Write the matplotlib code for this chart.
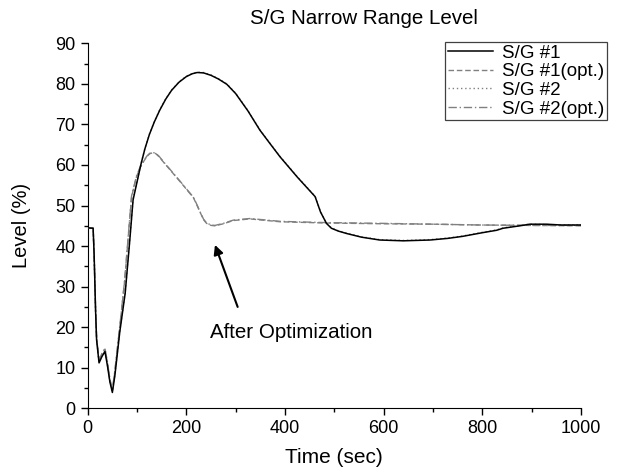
import matplotlib
matplotlib.use("Agg")
import matplotlib.pyplot as plt
from matplotlib.ticker import MultipleLocator

plt.rcParams['font.family'] = ['Liberation Sans', 'DejaVu Sans']

# S/G #1 level (solid)
t1 = [0, 11, 13, 16, 18, 23, 29, 35, 40, 45, 50, 55, 65, 76, 85, 92, 100, 108, 116, 125, 135, 146,
      158, 170, 185, 200, 212, 222, 235, 250, 265, 282, 300, 325, 349, 370, 390, 425, 461, 472, 484, 494, 508, 525,
      555, 592, 640, 694, 730, 760, 800, 829, 842, 876, 896, 930, 960, 1000]
y1 = [44.5, 44.4, 38, 24, 16.9, 11.2, 12.8, 14.0, 10.5, 6.5, 3.9, 8, 18.8, 28.4, 41, 51.4, 55.8, 60.2, 64.0, 67.5, 70.6, 73.5,
      76.2, 78.4, 80.4, 81.8, 82.5, 82.8, 82.7, 82.1, 81.2, 79.9, 77.6, 73.3, 68.6, 65.2, 62.0, 57.0, 52.2, 48.4, 45.6, 44.4, 43.7, 43.1,
      42.2, 41.5, 41.3, 41.5, 41.9, 42.4, 43.3, 43.9, 44.4, 45.0, 45.4, 45.4, 45.2, 45.2]

# S/G #1 level after optimization (dashed)
t1o = [0, 11, 13, 16, 18, 23, 29, 35, 40, 45, 50, 55, 65, 75, 82, 89, 99, 106, 113, 120, 126, 132, 138,
       145, 155, 167, 190, 205, 214, 220, 228, 235, 241, 250, 258, 275, 295, 329, 390, 480, 600, 700, 795, 900, 1000]
y1o = [44.5, 44.4, 38, 24, 17.3, 11.6, 13.4, 14.6, 11.2, 7, 4.4, 9, 20, 31.5, 42, 52.2, 57.1, 59.3, 60.8, 62.1, 62.8, 63.0, 62.8,
       62.0, 60.5, 58.8, 55.5, 53.3, 52.0, 50.5, 48.3, 46.5, 45.6, 45.1, 45.0, 45.5, 46.3, 46.7, 46.0, 45.7, 45.5, 45.4, 45.2, 45.1, 45.0]

# S/G #2 level (dotted)
t2 = [0, 11, 13, 16, 18, 23, 29, 35, 40, 45, 50, 55, 65, 76, 85, 92, 100, 108, 116, 125, 135, 146,
      158, 170, 185, 200, 212, 222, 235, 250, 265, 282, 300, 325, 349, 370, 390, 425, 461, 472, 484, 494, 508, 525,
      555, 592, 640, 694, 730, 760, 800, 829, 842, 876, 896, 930, 960, 1000]
y2 = [44.5, 44.4, 38, 24, 17.1, 11.4, 13.0, 14.2, 10.7, 6.7, 4.1, 8.2, 19.0, 28.6, 41.2, 51.6, 56.0, 60.3, 64.1, 67.6, 70.7, 73.6,
      76.3, 78.5, 80.5, 81.9, 82.6, 82.9, 82.8, 82.2, 81.3, 80.0, 77.7, 73.4, 68.7, 65.3, 62.1, 57.1, 52.3, 48.5, 45.7, 44.5, 43.8, 43.2,
      42.3, 41.6, 41.4, 41.6, 42.0, 42.5, 43.4, 44.0, 44.5, 45.1, 45.4, 45.3, 45.2, 45.3]

# S/G #2 level after optimization (dash-dot)
t2o = [0, 11, 13, 16, 18, 23, 29, 35, 40, 45, 50, 55, 65, 75, 82, 89, 99, 106, 113, 120, 126, 132, 138,
       145, 155, 167, 190, 205, 214, 220, 228, 235, 241, 250, 258, 275, 295, 329, 390, 480, 600, 700, 795, 900, 1000]
y2o = [44.5, 44.4, 38, 24, 17.5, 11.8, 13.6, 14.8, 11.4, 7.2, 4.6, 9.2, 20.2, 31.7, 42.2, 52.4, 57.3, 59.4, 60.9, 62.2, 62.9, 63.1, 62.9,
       62.1, 60.6, 58.9, 55.6, 53.4, 52.1, 50.6, 48.4, 46.6, 45.7, 45.2, 45.1, 45.6, 46.4, 46.8, 46.1, 45.8, 45.6, 45.4, 45.2, 45.1, 45.1]

fig = plt.figure(figsize=(6.26, 4.76), dpi=100)
ax = fig.add_axes([0.1401, 0.1422, 0.788, 0.7668])

ax.plot(t1, y1, color='black', lw=1.1, ls='-', label='S/G #1', zorder=4)
ax.plot(t1o, y1o, color='#808080', lw=1.0, ls=(0, (4, 2)), label='S/G #1(opt.)', zorder=3)
ax.plot(t2, y2, color='#808080', lw=1.0, ls=(0, (1, 2)), label='S/G #2', zorder=3)
ax.plot(t2o, y2o, color='#808080', lw=1.0, ls=(0, (6, 2, 1, 2)), label='S/G #2(opt.)', zorder=3)

ax.set_xlim(0, 1000)
ax.set_ylim(0, 90)
ax.xaxis.set_major_locator(MultipleLocator(200))
ax.xaxis.set_minor_locator(MultipleLocator(100))
ax.yaxis.set_major_locator(MultipleLocator(10))
ax.yaxis.set_minor_locator(MultipleLocator(5))
ax.tick_params(which='major', direction='out', length=4.7, width=1, pad=4, labelsize=13)
ax.tick_params(which='minor', direction='out', length=2.9, width=1)
ax.spines['top'].set_visible(False)
ax.spines['right'].set_visible(False)

ax.set_title('S/G Narrow Range Level', fontsize=14.8, pad=14, x=0.559)
ax.set_xlabel('Time (sec)', fontsize=15)
ax.set_ylabel('Level (%)', fontsize=14.5)
ax.xaxis.set_label_coords(0.5, -0.11)
ax.yaxis.set_label_coords(-0.115, 0.5)

# annotation: arrow and text drawn separately
ax.annotate('', xy=(258, 40.3), xytext=(304, 25.0),
            arrowprops=dict(arrowstyle='-|>', color='black', lw=1.5,
                            mutation_scale=14, shrinkA=0, shrinkB=0))
ax.text(248, 18.8, 'After Optimization', fontsize=14.8, va='center', ha='left')

leg = ax.legend(loc='upper left', bbox_to_anchor=(0.724, 1.004), fontsize=13.5,
                frameon=True, fancybox=False, framealpha=1, edgecolor='#404040',
                handlelength=2.4, handletextpad=0.5, borderaxespad=0,
                labelspacing=0.08, borderpad=0.15)
leg.get_frame().set_linewidth(0.9)

fig.savefig('out.png', dpi=100)
